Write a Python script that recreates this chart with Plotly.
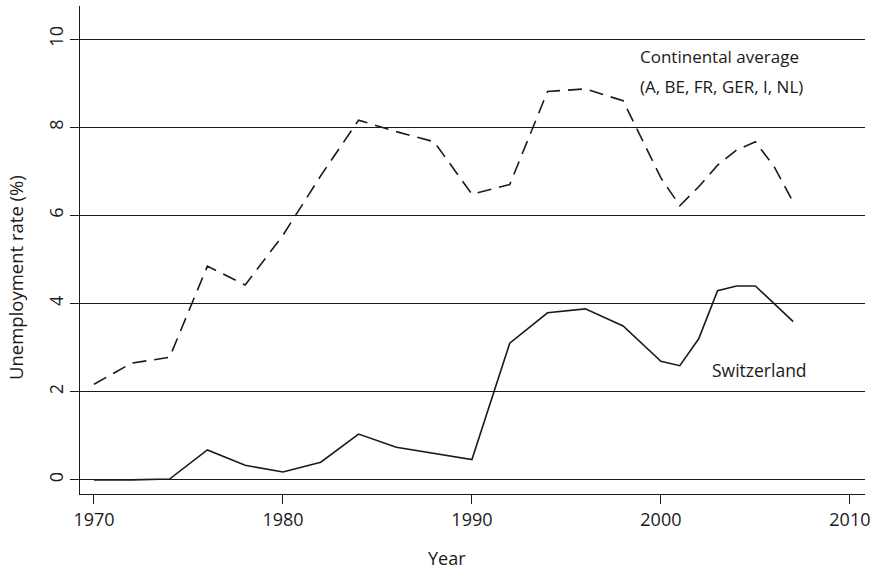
import plotly.graph_objects as go

years_ch = [1970, 1972, 1974, 1976, 1978, 1980, 1982, 1984, 1986, 1988, 1990,
            1992, 1994, 1996, 1998, 2000, 2001, 2002, 2003, 2004, 2005, 2007]
switzerland = [0.0, 0.0, 0.02, 0.68, 0.33, 0.18, 0.40, 1.04, 0.74, 0.60, 0.46,
               3.10, 3.79, 3.88, 3.49, 2.69, 2.59, 3.20, 4.29, 4.40, 4.40, 3.59]

years_ca = [1970, 1972, 1974, 1976, 1978, 1980, 1982, 1984, 1986, 1988, 1990,
            1992, 1994, 1996, 1998, 2000, 2001, 2002, 2003, 2004, 2005, 2006, 2007]
continental = [2.17, 2.65, 2.78, 4.85, 4.42, 5.55, 6.90, 8.16, 7.90, 7.67, 6.48,
               6.70, 8.81, 8.87, 8.60, 6.85, 6.22, 6.65, 7.14, 7.48, 7.67, 7.10, 6.30]

x_ticks = [1970, 1980, 1990, 2000, 2010]
y_ticks = [0, 2, 4, 6, 8, 10]

font_family = "Open Sans, Noto Sans, sans-serif"
ink = "#1a1a1a"

fig = go.Figure()
fig.add_trace(go.Scatter(x=years_ca, y=continental, mode="lines",
                         line=dict(color=ink, width=1.6, dash="14px,8px"),
                         showlegend=False))
fig.add_trace(go.Scatter(x=years_ch, y=switzerland, mode="lines",
                         line=dict(color=ink, width=1.6),
                         showlegend=False))

ann_font = dict(size=17, color=ink, family=font_family)
fig.add_annotation(x=1998.8, y=9.6, text="Continental average", showarrow=False,
                   xanchor="left", yanchor="middle", font=ann_font)
fig.add_annotation(x=1998.8, y=8.93, text="(A, BE, FR, GER, I, NL)", showarrow=False,
                   xanchor="left", yanchor="middle", font=ann_font)
fig.add_annotation(x=2002.6, y=2.49, text="Switzerland", showarrow=False,
                   xanchor="left", yanchor="middle", font=dict(size=17.5, color=ink, family=font_family))

# axis titles
fig.add_annotation(xref="paper", yref="paper", x=(447 - 80) / 785, y=(494 - 558) / 488,
                   text="Year", showarrow=False, xanchor="center", yanchor="middle",
                   font=dict(size=18, color=ink, family=font_family))
fig.add_annotation(xref="paper", yref="paper", x=(15 - 80) / 785, y=(494 - 278) / 488,
                   text="Unemployment rate (%)", showarrow=False, textangle=-90,
                   xanchor="center", yanchor="middle",
                   font=dict(size=18.5, color=ink, family=font_family))

fig.update_layout(
    width=877, height=573,
    margin=dict(l=80, r=12, t=6, b=79, autoexpand=False),
    paper_bgcolor="white", plot_bgcolor="white",
    font=dict(family=font_family, size=18, color=ink),
    xaxis=dict(range=[1969.26, 2010.8], tickvals=x_ticks, ticks="outside", ticklen=9,
               tickcolor=ink, showline=True, linecolor=ink, linewidth=1,
               showgrid=False, zeroline=False, automargin=False,
               tickfont=dict(size=18)),
    yaxis=dict(range=[-0.32, 10.75], tickvals=y_ticks, ticks="outside", ticklen=9,
               tickcolor=ink, showline=True, linecolor=ink, linewidth=1,
               showgrid=True, gridcolor=ink, gridwidth=1, zeroline=False,
               tickangle=-90, automargin=False, tickfont=dict(size=18)),
)

fig.write_html("out.html", config={"displayModeBar": False},
               post_script="document.body.style.margin='0';")
